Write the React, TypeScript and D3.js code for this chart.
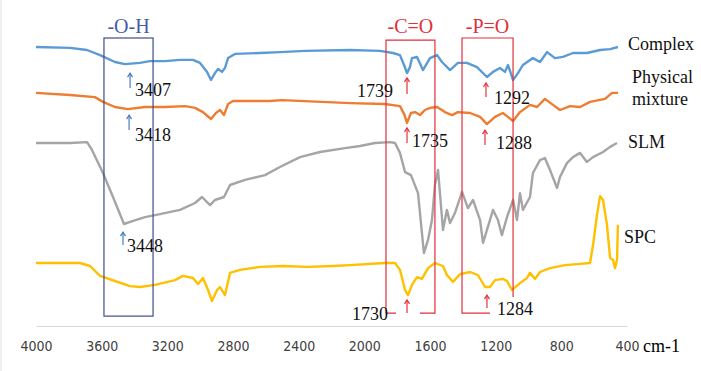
import React, { useRef, useEffect } from "react";
import * as d3 from "d3";

const width = 701;
const height = 371;

// x axis (cm-1)
const tickValues = [4000, 3600, 3200, 2800, 2400, 2000, 1600, 1200, 800, 400];

// spectra, arbitrary stacked transmittance units
const complexWn = [4000, 3793, 3689, 3610, 3519, 3458, 3367, 3306, 3214, 3123, 3044, 3001, 2958, 2934, 2910, 2891, 2867, 2849, 2830, 2788, 2636, 2514, 2361, 2087, 1905, 1825, 1783, 1758, 1740, 1722, 1710, 1679, 1643, 1600, 1557, 1527, 1478, 1430, 1375, 1314, 1253, 1216, 1174, 1143, 1125, 1094, 1064, 1034, 973, 930, 887, 839, 790, 729, 644, 564, 503, 455];
const complexT = [93.0, 92.7, 92.0, 90.3, 88.0, 87.3, 87.7, 88.3, 88.3, 88.7, 88.7, 87.7, 84.7, 82.0, 84.3, 85.7, 84.7, 86.0, 89.3, 90.7, 91.0, 91.3, 91.7, 92.0, 91.7, 91.0, 90.3, 87.0, 84.3, 86.3, 89.3, 89.7, 85.3, 89.3, 90.3, 88.0, 85.3, 87.7, 87.7, 86.3, 83.0, 84.7, 86.0, 84.7, 87.0, 82.0, 84.3, 87.0, 89.3, 88.0, 91.3, 89.3, 89.7, 91.0, 91.0, 92.0, 92.3, 93.0];

const mixtureWn = [4000, 3793, 3641, 3592, 3519, 3440, 3336, 3214, 3092, 3031, 2983, 2934, 2904, 2879, 2855, 2830, 2800, 2575, 2502, 2087, 1874, 1783, 1758, 1740, 1716, 1691, 1661, 1631, 1600, 1557, 1509, 1466, 1430, 1356, 1295, 1253, 1204, 1156, 1125, 1094, 1052, 991, 948, 900, 851, 808, 747, 686, 625, 534, 491, 455];
const mixtureT = [77.7, 77.0, 76.3, 74.7, 73.0, 72.3, 73.0, 73.0, 73.3, 72.7, 71.3, 69.0, 71.0, 72.0, 70.3, 74.0, 75.0, 75.0, 75.3, 74.3, 74.0, 73.3, 70.7, 67.7, 71.0, 71.3, 70.3, 72.0, 72.7, 73.0, 71.3, 70.3, 71.3, 71.0, 69.7, 67.3, 69.7, 71.0, 69.7, 68.3, 71.3, 73.7, 73.0, 75.7, 73.7, 72.0, 73.3, 73.0, 74.7, 75.7, 77.7, 77.7];

const slmWn = [4000, 3793, 3689, 3659, 3592, 3531, 3464, 3427, 3336, 3245, 3123, 3031, 2989, 2940, 2910, 2855, 2818, 2727, 2605, 2514, 2392, 2270, 2118, 2026, 1935, 1844, 1813, 1783, 1752, 1716, 1673, 1637, 1612, 1588, 1570, 1551, 1521, 1497, 1478, 1448, 1405, 1369, 1338, 1295, 1277, 1216, 1186, 1162, 1131, 1094, 1070, 1052, 1034, 991, 973, 930, 900, 869, 826, 808, 766, 729, 686, 644, 607, 546, 503, 461];
const slmT = [61.0, 61.0, 61.3, 58.7, 51.0, 43.0, 34.0, 34.7, 36.3, 37.3, 38.7, 41.0, 43.0, 40.3, 42.0, 43.0, 47.0, 48.7, 50.3, 53.0, 56.3, 58.0, 59.3, 60.0, 61.0, 61.3, 61.0, 57.7, 51.3, 50.3, 44.3, 24.3, 28.7, 35.3, 47.0, 52.0, 32.0, 38.7, 34.3, 37.7, 44.7, 39.3, 42.0, 35.3, 27.7, 38.7, 35.3, 30.3, 36.3, 42.0, 35.3, 44.3, 38.7, 43.0, 51.0, 55.3, 56.0, 52.0, 46.0, 49.7, 54.3, 56.3, 57.7, 54.7, 56.3, 58.0, 59.7, 61.0];

const spcWn = [4000, 3732, 3671, 3610, 3519, 3427, 3367, 3275, 3153, 3105, 3044, 3013, 2983, 2952, 2928, 2897, 2879, 2849, 2818, 2757, 2636, 2495, 2349, 2191, 2087, 1874, 1813, 1783, 1752, 1734, 1710, 1679, 1649, 1612, 1570, 1521, 1497, 1460, 1417, 1356, 1308, 1265, 1235, 1204, 1156, 1131, 1101, 1052, 1009, 991, 960, 930, 869, 778, 686, 625, 607, 583, 564, 546, 522, 503, 485, 473, 461, 455];
const spcT = [21.0, 21.0, 20.0, 16.7, 15.0, 13.3, 13.0, 13.7, 15.3, 16.7, 16.0, 14.0, 16.0, 12.0, 8.3, 12.0, 13.0, 10.3, 17.7, 18.7, 19.7, 20.0, 19.7, 20.0, 20.3, 21.0, 21.0, 18.7, 12.0, 10.3, 13.7, 16.3, 15.7, 19.3, 21.0, 20.0, 17.0, 14.7, 17.3, 18.0, 17.0, 13.0, 13.0, 15.3, 15.7, 15.0, 12.0, 14.3, 16.0, 17.7, 15.7, 18.0, 19.3, 20.3, 20.7, 21.0, 27.0, 37.0, 43.3, 42.0, 33.7, 22.7, 22.0, 19.3, 22.0, 33.7];

const seriesNames = ["Complex", "Physical mixture", "SLM", "SPC"];
const seriesColors = ["#5B9BD5", "#ED7D31", "#A5A5A5", "#FFC000"];

// peak annotations: wavenumber of arrow, arrow top/bottom, label pos
const peakLabels = ["3407", "3418", "3448", "1739", "1735", "1292", "1288", "1730", "1284"];
const peakArrowWn = [3427, 3433, 3470, 1740, 1740, 1259, 1265, 1740, 1253];
const peakArrowTop = [84.3, 70.3, 31.3, 82.7, 66.0, 81.0, 65.3, 8.7, 10.3];
const peakArrowBottom = [79.3, 65.3, 27.0, 77.3, 61.0, 76.3, 60.3, 4.3, 6.0];
const peakTextWn = [3397, 3397, 3446, 1825, 1710, 1210, 1198, 1856, 1192];
const peakTextT = [76.7, 61.7, 24.7, 76.3, 59.7, 74.0, 59.0, 2.0, 3.7];

const groupLabels = ["-O-H", "-C=O", "-P=O"];
const groupLeft = [3586, 1868, 1405];
const groupRight = [3287, 1570, 1094];

const serif = "'Liberation Serif', 'Times New Roman', serif";
const blueLine = "#3F4C8C";
const redLine = "#E0303A";

const x = d3.scaleLinear().domain([4000, 400]).range([36, 627]);
const y = d3.scaleLinear().domain([0, 100]).range([326, 26]);

const Arrow = ({ wn, top, bottom, color }) => {
  const ax = x(wn);
  const y1 = y(top);
  const y2 = y(bottom);
  return (
    <g stroke={color} strokeWidth={1.2} fill="none">
      <line x1={ax} x2={ax} y1={y1} y2={y2} />
      <polyline points={`${ax - 2.5},${y1 + 4} ${ax},${y1} ${ax + 2.5},${y1 + 4}`} />
    </g>
  );
};

const App = () => {
  const axisRef = useRef(null);

  useEffect(() => {
    const g = d3.select(axisRef.current);
    g.selectAll("*").remove();
    g.call(
      d3.axisBottom(x).tickValues(tickValues).tickFormat(d3.format("d")).tickSize(0).tickPadding(15)
    );
    g.select(".domain").attr("stroke", "#D9D9D9");
    g.selectAll("text")
      .attr("font-family", "'DejaVu Sans Condensed', 'Liberation Sans Narrow', sans-serif")
      .attr("font-size", 14)
      .attr("fill", "#404040");
  }, []);

  const line = d3.line().x((d) => x(d[0])).y((d) => y(d[1]));
  const wns = [complexWn, mixtureWn, slmWn, spcWn];
  const vals = [complexT, mixtureT, slmT, spcT];

  return (
    <svg width={width} height={height} style={{ position: "absolute", left: 0, top: 0, background: "#fff" }}>
      <line x1={1} x2={1} y1={0} y2={height} stroke="#E0E0E0" />

      {wns.map((wn, i) => (
        <path
          key={seriesNames[i]}
          d={line(wn.map((w, j) => [w, vals[i][j]]))}
          fill="none"
          stroke={seriesColors[i]}
          strokeWidth={2.4}
          strokeLinejoin="round"
        />
      ))}

      <g ref={axisRef} transform={`translate(0,${y(0)})`} />
      <text x={643} y={352} fontFamily={serif} fontSize={18}>cm-1</text>

      {/* functional group boxes */}
      <rect x={x(groupLeft[0])} y={y(96)} width={x(groupRight[0]) - x(groupLeft[0])} height={y(3.3) - y(96)} fill="none" stroke={blueLine} strokeWidth={1.2} />
      <path
        d={`M${x(1807)},${y(4.3)} H${x(groupLeft[1])} V${y(95.3)} H${x(groupRight[1])} V${y(4.3)} H${x(1661)}`}
        fill="none" stroke={redLine} strokeWidth={1.2} />
      <path
        d={`M${x(1235)},${y(4.3)} H${x(groupLeft[2])} V${y(96)} H${x(groupRight[2])} V${y(9.7)}`}
        fill="none" stroke={redLine} strokeWidth={1.2} />
      {groupLabels.map((t, i) => (
        <text key={t} x={x((groupLeft[i] + groupRight[i]) / 2)} y={y(97.7)} textAnchor="middle"
          fontFamily={serif} fontSize={20} fill={i === 0 ? "#4A58A8" : "#E0303A"}>
          {t}
        </text>
      ))}

      {peakLabels.map((t, i) => (
        <g key={t}>
          <Arrow wn={peakArrowWn[i]} top={peakArrowTop[i]} bottom={peakArrowBottom[i]} color={i < 3 ? "#4A7EC0" : "#E8303A"} />
          <text x={x(peakTextWn[i])} y={y(peakTextT[i])} textAnchor={t === "1739" || t === "1730" ? "end" : "start"}
            fontFamily={serif} fontSize={18} fill="#111">
            {t}
          </text>
        </g>
      ))}

      {/* series names */}
      <g fontFamily={serif} fontSize={18} fill="#111">
        <text x={628} y={50}>Complex</text>
        <text x={632} y={83}>Physical</text>
        <text x={632} y={105}>mixture</text>
        <text x={628} y={148}>SLM</text>
        <text x={624} y={243}>SPC</text>
      </g>
    </svg>
  );
};

export default App;
